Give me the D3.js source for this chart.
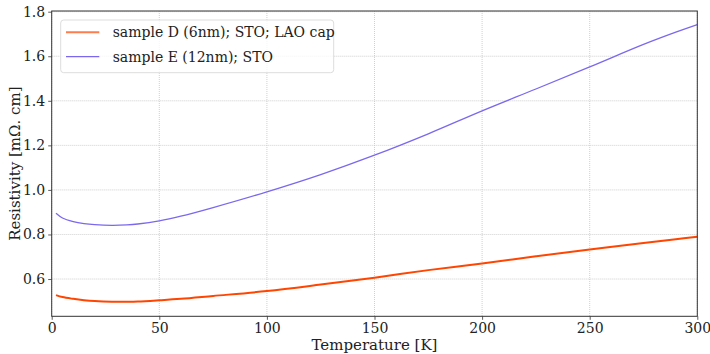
<!DOCTYPE html>
<html><head><meta charset="utf-8">
<script src="https://cdn.jsdelivr.net/npm/d3@7"></script>
<style>body{margin:0;background:#fff}svg{display:block}
text{font-family:"DejaVu Serif","Liberation Serif","Noto Serif",serif}</style>
</head><body>
<svg id="c" width="710" height="354"></svg>
<script>
const temps = [2, 5, 10, 15, 20, 28, 35, 40, 50, 60, 75, 100, 125, 150, 175, 200, 225, 250, 275, 290, 300];
const sampleD = [0.528, 0.519, 0.511, 0.505, 0.501, 0.498, 0.498, 0.499, 0.5045, 0.511, 0.524, 0.546, 0.575, 0.606, 0.640, 0.670, 0.702, 0.733, 0.762, 0.779, 0.790];
const sampleE = [0.895, 0.874, 0.858, 0.849, 0.844, 0.841, 0.843, 0.847, 0.861, 0.882, 0.921, 0.9915, 1.069, 1.156, 1.252, 1.355, 1.453, 1.552, 1.653, 1.708, 1.742];
const seriesNames = ["sample D (6nm); STO; LAO cap", "sample E (12nm); STO"];
const xTicks = [0, 50, 100, 150, 200, 250, 300];
const yTicks = [0.6, 0.8, 1.0, 1.2, 1.4, 1.6, 1.8];

const svg = d3.select("#c");
const L = 51.7, R = 697.3, T = 11, B = 316.3;
const x = d3.scaleLinear().domain([0, 300]).range([L, R]);
const y = d3.scaleLinear().domain([0.4327, 1.8031]).range([B, T]);
const font = "DejaVu Serif";

// grid
const g = svg.append("g");
g.selectAll(".gx").data(xTicks).enter().append("line")
  .attr("x1", d => x(d)).attr("x2", d => x(d)).attr("y1", T).attr("y2", B)
  .attr("stroke", "#c4c4c4").attr("stroke-width", 0.8).attr("stroke-dasharray", "1,1");
g.selectAll(".gy").data(yTicks).enter().append("line")
  .attr("y1", d => y(d)).attr("y2", d => y(d)).attr("x1", L).attr("x2", R)
  .attr("stroke", "#c4c4c4").attr("stroke-width", 0.8).attr("stroke-dasharray", "1,1");

// lines
const line = (vals) => d3.line().x((d, i) => x(temps[i])).y(d => y(d)).curve(d3.curveCatmullRom.alpha(0.5))(vals);
svg.append("path").attr("d", line(sampleE)).attr("fill", "none").attr("stroke", "#7b68ee").attr("stroke-width", 1.3);
svg.append("path").attr("d", line(sampleD)).attr("fill", "none").attr("stroke", "#ff4500").attr("stroke-width", 2);

// axes
const xa = svg.append("g").attr("transform", `translate(0,${B})`)
  .call(d3.axisBottom(x).tickValues(xTicks).tickSize(3.5).tickPadding(3).tickFormat(d3.format("d")));
const ya = svg.append("g").attr("transform", `translate(${L},0)`)
  .call(d3.axisLeft(y).tickValues(yTicks).tickSize(3.5).tickPadding(3).tickFormat(d3.format(".1f")));
[xa, ya].forEach(a => {
  a.attr("font-family", font).attr("font-size", 14);
  a.select(".domain").remove();
  a.selectAll("line").attr("stroke", "#333").attr("stroke-width", 0.8);
  a.selectAll("text").attr("fill", "#222");
});
svg.append("rect").attr("x", L).attr("y", T).attr("width", R - L).attr("height", B - T)
  .attr("fill", "none").attr("stroke", "#333").attr("stroke-width", 1);

// labels
svg.append("text").attr("x", (L + R) / 2).attr("y", 350).attr("text-anchor", "middle")
  .attr("font-family", font).attr("font-size", 15).attr("fill", "#222").text("Temperature [K]");
svg.append("text").attr("transform", `translate(20,${(T + B) / 2}) rotate(-90)`).attr("text-anchor", "middle")
  .attr("font-family", font).attr("font-size", 15).attr("fill", "#222").text("Resistivity [mΩ. cm]");

// legend
const lg = svg.append("g");
lg.append("rect").attr("x", 60.7).attr("y", 20).attr("width", 273).attr("height", 52.7).attr("rx", 3)
  .attr("fill", "#fff").attr("fill-opacity", 0.8).attr("stroke", "#ddd").attr("stroke-width", 1);
const cols = ["#ff4500", "#7b68ee"];
seriesNames.forEach((n, i) => {
  const yy = 32.3 + i * 24.4;
  lg.append("line").attr("x1", 66).attr("x2", 99.3).attr("y1", yy).attr("y2", yy)
    .attr("stroke", cols[i]).attr("stroke-width", i === 0 ? 2 : 1.3).attr("stroke-opacity", i === 0 ? 0.7 : 1);
  lg.append("text").attr("x", 112.7).attr("y", yy + 5).attr("font-family", font).attr("font-size", 14)
    .attr("fill", "#222").text(n);
});
</script>
</body></html>
